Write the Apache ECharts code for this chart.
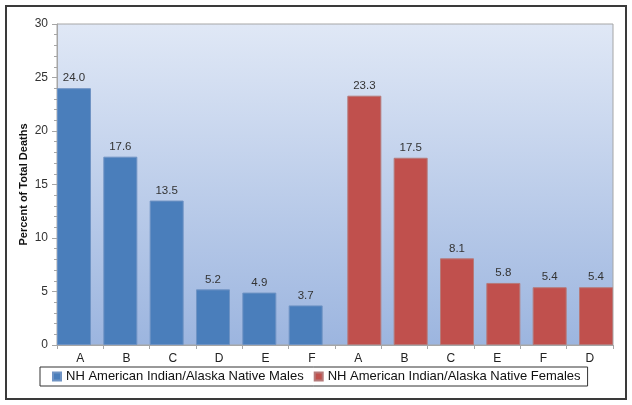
<!DOCTYPE html>
<html>
<head>
<meta charset="utf-8">
<script src="https://cdn.jsdelivr.net/npm/echarts@6/dist/echarts.min.js"></script>
<style>html,body{margin:0;padding:0;background:#fff;}#c{width:632px;height:405px;}</style>
</head>
<body>
<div id="c"></div>
<script>
var categories = ['A','B','C','D','E','F','A','B','C','E','F','D'];
var maleValues = [24.0, 17.6, 13.5, 5.2, 4.9, 3.7, '-', '-', '-', '-', '-', '-'];
var femaleValues = ['-', '-', '-', '-', '-', '-', 23.3, 17.5, 8.1, 5.8, 5.4, 5.4];
var yTicks = [0, 5, 10, 15, 20, 25, 30];
var seriesNames = ['NH American Indian/Alaska Native Males', 'NH American Indian/Alaska Native Females'];

var chart = echarts.init(document.getElementById('c'), null, {renderer: 'canvas'});
var font = 'Liberation Sans, Arial, sans-serif';
var labelCfg = {show: true, position: 'top', distance: 4, color: '#333', fontSize: 11.5, fontFamily: font,
  formatter: function (p) { return Number(p.value).toFixed(1); }};
chart.setOption({
  animation: false,
  textStyle: {fontFamily: font},
  graphic: [{
    type: 'rect', shape: {x: 6, y: 6, width: 620, height: 393},
    style: {fill: 'none', stroke: '#3a3a3a', lineWidth: 2}, z: 100
  }],
  grid: {
    left: 57, top: 24, right: 19, bottom: 60, show: true,
    borderColor: '#a6a6a6', borderWidth: 1,
    backgroundColor: {type: 'linear', x: 0, y: 0, x2: 0, y2: 1,
      colorStops: [{offset: 0, color: '#e0e8f6'}, {offset: 1, color: '#9cb5df'}]}
  },
  legend: {
    left: 40, top: 367, orient: 'horizontal',
    data: seriesNames, icon: 'rect', itemWidth: 8, itemHeight: 8, itemGap: 10,
    borderColor: '#333', borderWidth: 1, padding: [3, 7, 3, 12],
    textStyle: {fontSize: 13, color: '#111', fontFamily: font}
  },
  xAxis: {
    type: 'category', data: categories,
    axisLine: {lineStyle: {color: '#a6a6a6'}},
    axisTick: {show: true, alignWithLabel: false, length: 4, lineStyle: {color: '#a6a6a6'}},
    axisLabel: {color: '#222', fontSize: 12, margin: 8, fontFamily: font, interval: 0}
  },
  yAxis: {
    type: 'value', min: yTicks[0], max: yTicks[yTicks.length - 1], interval: 5,
    name: 'Percent of Total Deaths', nameLocation: 'middle', nameGap: 28, nameMoveOverlap: false,
    nameTextStyle: {fontWeight: 'bold', fontSize: 11, color: '#111', fontFamily: font},
    axisLine: {show: true, lineStyle: {color: '#a6a6a6'}},
    axisTick: {show: true, length: 5, lineStyle: {color: '#a6a6a6'}},
    minorTick: {show: true, splitNumber: 5, length: 3, lineStyle: {color: '#a6a6a6'}},
    splitLine: {show: false},
    axisLabel: {color: '#333', fontSize: 12, margin: 9, fontFamily: font}
  },
  series: [{
    name: seriesNames[0], type: 'bar', data: maleValues, barWidth: 34, barGap: '-63.7%',
    itemStyle: {color: '#4a7ebb', borderColor: '#6f93c4', borderWidth: 1},
    label: labelCfg
  }, {
    name: seriesNames[1], type: 'bar', data: femaleValues, barWidth: 34, barGap: '-63.7%',
    itemStyle: {color: '#c0504d', borderColor: '#b57a7a', borderWidth: 1},
    label: labelCfg
  }]
});
</script>
</body>
</html>
